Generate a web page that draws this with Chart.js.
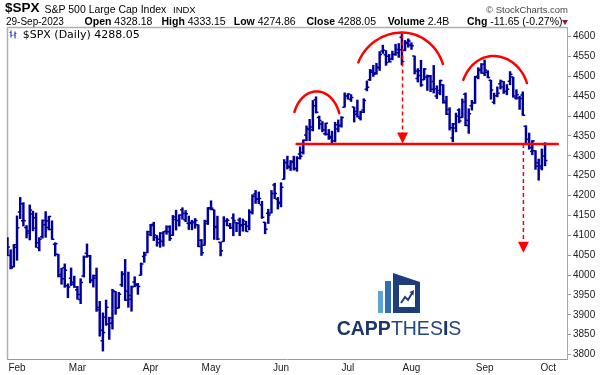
<!DOCTYPE html>
<html><head><meta charset="utf-8">
<script src="https://cdn.jsdelivr.net/npm/chart.js@4.4.0/dist/chart.umd.min.js"></script>
<style>
html,body{margin:0;padding:0;background:#fff;}
#wrap{position:relative;width:602px;height:375px;overflow:hidden;font-family:"Liberation Sans",Arial,sans-serif;}
canvas{position:absolute;left:0;top:0;}
.t{position:absolute;white-space:nowrap;line-height:1;color:#000;}
.b{font-weight:bold;}
</style></head><body>
<div id="wrap">
<canvas id="c" width="602" height="375"></canvas>
<div class="t b" style="left:5px;top:1.2px;font-size:13.5px;">$SPX</div>
<div class="t" style="left:44.5px;top:3.7px;font-size:10.5px;">S&amp;P 500 Large Cap Index</div>
<div class="t" style="left:173px;top:4.6px;font-size:9.5px;">INDX</div>
<div class="t" style="right:34px;top:4.6px;font-size:9.5px;color:#444;">© StockCharts.com</div>
<div class="t" style="left:6px;top:16.5px;font-size:10px;">29-Sep-2023</div>
<div class="t" style="left:84.6px;top:16.1px;font-size:10.5px;"><span class="b">Open</span> 4328.18</div>
<div class="t" style="left:161.5px;top:16.1px;font-size:10.5px;"><span class="b">High</span> 4333.15</div>
<div class="t" style="left:233.8px;top:16.1px;font-size:10.5px;"><span class="b">Low</span> 4274.86</div>
<div class="t" style="left:306.5px;top:16.1px;font-size:10.5px;"><span class="b">Close</span> 4288.05</div>
<div class="t" style="left:387.7px;top:16.1px;font-size:10.5px;"><span class="b">Volume</span> 2.4B</div>
<div class="t" style="left:467px;top:16.1px;font-size:10.5px;"><span class="b">Chg</span> -11.65 (-0.27%)</div>
<div style="position:absolute;left:561.5px;top:19.5px;width:0;height:0;border-left:3px solid transparent;border-right:3px solid transparent;border-top:5px solid #8b1a3a;"></div>
<svg style="position:absolute;left:9px;top:30px;" width="9" height="9" viewBox="0 0 9 9">
<path d="M2 0.5V7.5M0.5 2.5H2M2 5.5H3.5M6 1.5V8.5M4.5 5H6M6 3.5H7.5" stroke="#3344bb" stroke-width="1.2" fill="none"/>
</svg>
<div class="t" style="left:22.7px;top:28.7px;font-size:11px;font-family:'DejaVu Sans',sans-serif;">$SPX (Daily) 4288.05</div>
<svg style="position:absolute;left:377px;top:272px;" width="45" height="42" viewBox="0 0 45 42">
<rect x="1" y="19" width="5" height="22" fill="#5ba3d9"/>
<rect x="8" y="9" width="6" height="32" fill="#2f6db5"/>
<polygon points="16,1 43,10 43,41 16,41" fill="#1f3d7a"/>
<rect x="22" y="13" width="16" height="22" fill="#fff"/>
<polyline points="24,31 28,25 31,28 35.5,20.5" stroke="#1f3d7a" stroke-width="2" fill="none"/>
<polygon points="37,18 36.5,23.5 32.5,20" fill="#1f3d7a"/>
</svg>
<div class="t" style="left:336.7px;top:318.5px;font-size:19.5px;color:#1c3766;"><span class="b">CAPP</span><span style="color:#24467e">THES</span><span class="b">I</span><span style="color:#24467e">S</span></div>
</div>
<script>
const dates = [
'2023-01-27','2023-01-30','2023-01-31',
'2023-02-01','2023-02-02','2023-02-03','2023-02-06','2023-02-07','2023-02-08','2023-02-09','2023-02-10','2023-02-13','2023-02-14','2023-02-15','2023-02-16','2023-02-17','2023-02-21','2023-02-22','2023-02-23','2023-02-24','2023-02-27','2023-02-28',
'2023-03-01','2023-03-02','2023-03-03','2023-03-06','2023-03-07','2023-03-08','2023-03-09','2023-03-10','2023-03-13','2023-03-14','2023-03-15','2023-03-16','2023-03-17','2023-03-20','2023-03-21','2023-03-22','2023-03-23','2023-03-24','2023-03-27','2023-03-28','2023-03-29','2023-03-30','2023-03-31',
'2023-04-03','2023-04-04','2023-04-05','2023-04-06','2023-04-10','2023-04-11','2023-04-12','2023-04-13','2023-04-14','2023-04-17','2023-04-18','2023-04-19','2023-04-20','2023-04-21','2023-04-24','2023-04-25','2023-04-26','2023-04-27','2023-04-28',
'2023-05-01','2023-05-02','2023-05-03','2023-05-04','2023-05-05','2023-05-08','2023-05-09','2023-05-10','2023-05-11','2023-05-12','2023-05-15','2023-05-16','2023-05-17','2023-05-18','2023-05-19','2023-05-22','2023-05-23','2023-05-24','2023-05-25','2023-05-26','2023-05-30','2023-05-31',
'2023-06-01','2023-06-02','2023-06-05','2023-06-06','2023-06-07','2023-06-08','2023-06-09','2023-06-12','2023-06-13','2023-06-14','2023-06-15','2023-06-16','2023-06-20','2023-06-21','2023-06-22','2023-06-23','2023-06-26','2023-06-27','2023-06-28','2023-06-29','2023-06-30',
'2023-07-03','2023-07-05','2023-07-06','2023-07-07','2023-07-10','2023-07-11','2023-07-12','2023-07-13','2023-07-14','2023-07-17','2023-07-18','2023-07-19','2023-07-20','2023-07-21','2023-07-24','2023-07-25','2023-07-26','2023-07-27','2023-07-28','2023-07-31',
'2023-08-01','2023-08-02','2023-08-03','2023-08-04','2023-08-07','2023-08-08','2023-08-09','2023-08-10','2023-08-11','2023-08-14','2023-08-15','2023-08-16','2023-08-17','2023-08-18','2023-08-21','2023-08-22','2023-08-23','2023-08-24','2023-08-25','2023-08-28','2023-08-29','2023-08-30','2023-08-31',
'2023-09-01','2023-09-05','2023-09-06','2023-09-07','2023-09-08','2023-09-11','2023-09-12','2023-09-13','2023-09-14','2023-09-15','2023-09-18','2023-09-19','2023-09-20','2023-09-21','2023-09-22','2023-09-25','2023-09-26','2023-09-27','2023-09-28','2023-09-29'
];
const opens = [
4053.72,4049.27,4020.85,
4070.07,4158.68,4136.69,4119.57,4105.35,4153.47,4144.25,4068.92,4096.62,4126.70,4119.50,4114.75,4077.39,4052.35,4001.83,4018.60,3973.24,3992.36,3977.19,
3963.34,3938.68,3998.02,4055.15,4048.26,3987.55,3998.66,3912.77,3835.12,3894.01,3876.74,3878.93,3958.69,3917.47,3975.89,4002.04,3959.21,3939.21,3982.93,3974.13,3999.53,4046.74,4056.18,
4102.20,4128.03,4094.50,4081.15,4085.20,4110.29,4121.72,4100.04,4140.11,4137.17,4164.26,4139.33,4130.48,4132.14,4132.07,4126.43,4087.78,4075.29,4129.63,
4166.79,4164.10,4122.25,4082.61,4084.73,4136.98,4124.25,4143.74,4132.24,4138.54,4126.65,4127.95,4122.85,4157.68,4204.15,4190.78,4176.80,4132.96,4155.71,4156.16,4226.71,4190.74,
4183.03,4241.01,4282.99,4271.34,4285.47,4268.69,4304.88,4308.32,4352.61,4366.29,4365.33,4440.95,4396.11,4380.01,4355.40,4354.17,4344.84,4337.36,4367.48,4374.94,4422.44,
4450.48,4442.04,4422.62,4404.54,4394.23,4415.55,4467.69,4491.50,4514.61,4508.86,4521.78,4563.87,4554.38,4550.16,4543.39,4555.19,4558.96,4598.26,4565.75,4584.82,
4578.83,4550.93,4494.27,4513.96,4491.58,4498.03,4501.57,4487.16,4450.69,4458.13,4478.87,4433.79,4416.32,4344.88,4380.28,4415.33,4396.44,4455.16,4389.38,4426.03,4432.75,4500.34,4517.01,
4530.60,4510.06,4490.35,4434.55,4451.30,4480.98,4473.27,4462.65,4487.78,4497.98,4445.13,4445.41,4452.81,4374.36,4341.74,4310.62,4312.88,4282.63,4269.65,4328.18
];
const highs = [
4094.21,4063.85,4077.16,
4148.95,4195.44,4182.36,4124.63,4176.54,4160.77,4156.23,4094.36,4138.90,4159.77,4148.11,4136.54,4081.51,4052.35,4017.37,4028.30,3978.25,4018.05,3997.50,
3971.73,3990.84,4048.29,4078.49,4050.00,4000.41,4017.81,3934.05,3905.05,3937.29,3894.26,3964.46,3958.91,3956.62,4009.08,4039.49,4007.66,3972.74,3996.00,3979.20,4030.59,4057.85,4110.75,
4127.66,4133.13,4099.69,4107.32,4109.50,4124.26,4124.36,4150.26,4163.19,4151.72,4169.48,4162.57,4148.57,4138.02,4142.41,4126.43,4089.67,4138.24,4170.06,
4186.92,4164.10,4148.30,4082.61,4147.02,4142.30,4130.35,4154.28,4132.80,4143.74,4141.25,4135.54,4164.67,4202.20,4212.91,4209.22,4185.68,4132.96,4165.74,4212.87,4231.10,4195.44,
4232.43,4290.67,4299.28,4288.33,4299.19,4298.01,4322.62,4340.13,4375.37,4391.82,4439.20,4448.47,4400.15,4386.22,4382.25,4366.55,4362.06,4384.42,4390.35,4398.39,4458.48,
4456.46,4454.06,4422.62,4440.39,4412.60,4443.64,4488.34,4517.38,4527.76,4532.85,4562.30,4578.43,4564.74,4555.00,4563.41,4580.62,4582.47,4607.07,4590.16,4594.22,
4584.62,4550.93,4519.49,4540.34,4519.84,4503.31,4502.44,4527.37,4476.23,4490.33,4478.87,4449.95,4421.17,4381.82,4407.55,4418.59,4443.18,4458.30,4418.46,4439.56,4500.14,4521.65,4532.26,
4541.25,4514.29,4490.35,4457.81,4473.53,4490.77,4487.11,4479.39,4511.99,4497.98,4466.36,4449.85,4461.03,4375.70,4357.40,4338.51,4313.01,4292.07,4317.27,4333.15
];
const lows = [
4048.70,4015.55,4020.44,
4037.20,4141.88,4123.36,4093.38,4088.39,4111.35,4069.67,4060.79,4092.67,4095.01,4113.47,4089.73,4047.95,3995.19,3976.90,3969.19,3943.08,3973.55,3968.98,
3939.05,3928.16,3995.17,4044.61,3980.31,3969.76,3908.70,3846.32,3808.86,3873.63,3838.24,3864.11,3901.27,3916.89,3971.19,3936.17,3919.05,3909.16,3970.42,3951.53,3999.53,4032.10,4056.18,
4098.79,4086.87,4072.56,4069.84,4072.55,4102.61,4086.94,4099.40,4113.20,4123.18,4140.36,4134.49,4114.57,4113.86,4117.77,4071.38,4049.35,4075.29,4127.18,
4164.12,4089.72,4088.86,4048.28,4084.73,4123.81,4116.65,4098.92,4109.29,4099.12,4110.27,4109.86,4113.62,4153.50,4180.20,4179.68,4142.54,4103.98,4129.73,4156.16,4192.18,4166.15,
4171.64,4241.01,4266.82,4263.09,4263.96,4261.07,4291.70,4304.37,4337.66,4337.85,4362.60,4407.44,4367.19,4360.14,4351.82,4341.34,4328.08,4335.00,4360.22,4371.97,4422.44,
4442.29,4436.61,4385.05,4397.40,4389.92,4408.46,4463.23,4489.36,4499.56,4504.90,4514.59,4557.48,4527.56,4535.79,4541.29,4552.42,4547.58,4528.56,4564.01,4573.14,
4567.53,4505.75,4485.54,4474.55,4491.15,4464.39,4461.33,4457.92,4443.98,4453.44,4432.19,4403.55,4364.83,4335.31,4360.30,4382.77,4396.44,4375.55,4356.29,4414.98,4431.68,4493.59,4507.39,
4501.35,4496.01,4442.38,4430.46,4448.38,4467.89,4456.83,4453.52,4478.69,4447.21,4442.11,4416.61,4401.38,4329.17,4316.49,4302.70,4265.98,4238.63,4264.38,4274.86
];
const closes = [
4070.56,4017.77,4076.60,
4119.21,4179.76,4136.48,4111.08,4164.00,4117.86,4081.50,4090.46,4137.29,4136.13,4147.60,4090.41,4079.09,3997.34,3991.05,4012.32,3970.04,3982.24,3970.15,
3951.39,3981.35,4045.64,4048.42,3986.37,3992.01,3918.32,3861.59,3855.76,3919.29,3891.93,3960.28,3916.64,3951.57,4002.87,3936.97,3948.72,3970.99,3977.53,3971.27,4027.81,4050.83,4109.31,
4124.51,4100.60,4090.38,4105.02,4109.11,4108.94,4091.95,4146.22,4137.64,4151.32,4154.87,4154.52,4129.79,4133.52,4137.04,4071.63,4055.99,4135.35,4169.48,
4167.87,4119.58,4090.75,4061.22,4136.25,4138.12,4119.17,4137.64,4130.62,4124.08,4136.28,4109.90,4158.77,4198.05,4191.98,4192.63,4145.58,4115.24,4151.28,4205.45,4205.52,4179.83,
4221.02,4282.37,4273.79,4283.85,4267.52,4293.93,4298.86,4338.93,4369.01,4372.59,4425.84,4409.59,4388.71,4365.69,4381.89,4348.33,4328.82,4378.41,4376.86,4396.44,4450.38,
4455.59,4446.82,4411.59,4398.95,4409.53,4439.26,4472.16,4510.04,4505.42,4522.79,4554.98,4565.72,4534.87,4536.34,4554.64,4567.46,4566.75,4537.41,4582.23,4588.96,
4576.73,4513.39,4501.89,4478.03,4518.44,4499.38,4467.71,4468.83,4464.05,4489.72,4437.86,4404.33,4370.36,4369.71,4399.77,4387.55,4436.01,4376.31,4405.71,4433.31,4497.63,4514.87,4507.66,
4515.77,4496.83,4465.48,4451.14,4457.49,4487.46,4461.90,4467.44,4505.10,4450.32,4453.53,4443.95,4402.20,4330.00,4320.06,4337.44,4273.53,4274.51,4299.70,4288.05
];
const monthLabels = ['Feb','Mar','Apr','May','Jun','Jul','Aug','Sep','Oct'];
const monthTickIndex = [3,22,45,64,86,107,127,150,170];
const yTickValues = [3800,3850,3900,3950,4000,4050,4100,4150,4200,4250,4300,4350,4400,4450,4500,4550,4600];
// annotations, in data units (bar index, price)
const necklineLevel = 4330;
const necklineSpan = [90.9, 173.0];
const arcLeft = [90.2, 110.3, 143.3];
const arcLeftValue = [4410, 4535, 4491];
const arcPeak = [97.2, 124.1, 152.7];
const arcPeakValue = [4462, 4610, 4551];
const arcRight = [104.3, 136.9, 163.3];
const arcRightValue = [4407, 4531, 4483];
const arrowIndex = [124.2, 162.2];
const arrowFrom = [4605, 4330];
const arrowTo = [4331, 4056];

const FONT = "'Liberation Sans', Arial, sans-serif";
const BAR = '#000099';
const RED = '#ff0000';

const ohlcTicks = {
  id: 'ohlcTicks',
  afterDatasetsDraw(chart) {
    const {ctx, scales: {x, y}, chartArea: a} = chart;
    ctx.save();
    ctx.beginPath(); ctx.rect(a.left, a.top, a.right - a.left, a.bottom - a.top); ctx.clip();
    ctx.strokeStyle = BAR; ctx.lineWidth = 1.5;
    ctx.beginPath();
    for (let i = 0; i < dates.length; i++) {
      const xp = x.getPixelForValue(i);
      const yo = y.getPixelForValue(opens[i]);
      const yc = y.getPixelForValue(closes[i]);
      ctx.moveTo(xp - 2.4, yo); ctx.lineTo(xp, yo);
      ctx.moveTo(xp, yc); ctx.lineTo(xp + 2.4, yc);
    }
    ctx.stroke();
    ctx.restore();
  }
};

const frame = {
  id: 'frame',
  beforeDatasetsDraw(chart) {
    const {ctx, chartArea: a} = chart;
    ctx.save();
    ctx.strokeStyle = '#b0b0b0'; ctx.lineWidth = 1.5;
    ctx.beginPath();
    ctx.moveTo(a.left + 0.5, a.bottom); ctx.lineTo(a.left + 0.5, a.top + 0.5); ctx.lineTo(a.right, a.top + 0.5);
    ctx.stroke();
    ctx.restore();
  }
};

const annotations = {
  id: 'annotations',
  afterDraw(chart) {
    const {ctx, scales: {x, y}} = chart;
    ctx.save();
    ctx.strokeStyle = RED; ctx.fillStyle = RED; ctx.lineCap = 'round';
    ctx.lineWidth = 2.5;
    ctx.beginPath();
    ctx.moveTo(x.getPixelForValue(necklineSpan[0]), y.getPixelForValue(necklineLevel));
    ctx.lineTo(x.getPixelForValue(necklineSpan[1]), y.getPixelForValue(necklineLevel));
    ctx.stroke();
    for (let k = 0; k < arcPeak.length; k++) {
      const xl = x.getPixelForValue(arcLeft[k]), yl = y.getPixelForValue(arcLeftValue[k]);
      const xr = x.getPixelForValue(arcRight[k]), yr = y.getPixelForValue(arcRightValue[k]);
      const xp = x.getPixelForValue(arcPeak[k]), yp = y.getPixelForValue(arcPeakValue[k]);
      const h = Math.max(yl, yr) - yp;
      const cy = Math.max(yl, yr) + 0.5 * h;
      const ry = cy - yp;
      const phiL = Math.asin((cy - yl) / ry), phiR = Math.asin((cy - yr) / ry);
      const rxl = (xp - xl) / Math.cos(phiL), rxr = (xr - xp) / Math.cos(phiR);
      ctx.beginPath();
      const n = 40;
      for (let j = 0; j <= n; j++) {
        const phi = phiL + (Math.PI / 2 - phiL) * j / n;
        const px = xp - rxl * Math.cos(phi), py = cy - ry * Math.sin(phi);
        if (j === 0) ctx.moveTo(px, py); else ctx.lineTo(px, py);
      }
      for (let j = 1; j <= n; j++) {
        const phi = Math.PI / 2 - (Math.PI / 2 - phiR) * j / n;
        ctx.lineTo(xp + rxr * Math.cos(phi), cy - ry * Math.sin(phi));
      }
      ctx.lineWidth = 2.5;
      ctx.stroke();
    }
    for (let k = 0; k < arrowIndex.length; k++) {
      const xp = x.getPixelForValue(arrowIndex[k]);
      const y0 = y.getPixelForValue(arrowFrom[k]);
      const y1 = y.getPixelForValue(arrowTo[k]);
      ctx.lineWidth = 1.5; ctx.lineCap = 'butt';
      ctx.setLineDash([4, 3]);
      ctx.beginPath(); ctx.moveTo(xp, y0); ctx.lineTo(xp, y1 - 10); ctx.stroke();
      ctx.setLineDash([]);
      ctx.beginPath(); ctx.moveTo(xp - 5.5, y1 - 11); ctx.lineTo(xp + 5.5, y1 - 11); ctx.lineTo(xp, y1); ctx.closePath(); ctx.fill();
    }
    ctx.restore();
  }
};

new Chart(document.getElementById('c'), {
  type: 'bar',
  data: {
    datasets: [{
      data: dates.map((d, i) => ({x: i, y: [lows[i], highs[i]]})),
      backgroundColor: BAR,
      borderWidth: 0,
      barThickness: 1.8
    }]
  },
  options: {
    responsive: false,
    animation: false,
    devicePixelRatio: 1,
    layout: {padding: {left: 7, top: 27, right: 0, bottom: 0}},
    plugins: {legend: {display: false}, tooltip: {enabled: false}},
    scales: {
      x: {
        type: 'linear', min: -0.15, max: 175.9, offset: false,
        grid: {display: true, drawOnChartArea: false, drawTicks: false},
        border: {display: true, color: '#999', dash: [1, 2], width: 1},
        ticks: {padding: 3, color: '#222', font: {family: FONT, size: 10}, maxRotation: 0, autoSkip: false,
          callback: (v, i) => monthLabels[i]},
        afterBuildTicks: s => { s.ticks = monthTickIndex.map(v => ({value: v})); },
        afterFit: s => { s.height = 16; }
      },
      y: {
        position: 'right', min: 3789, max: 4624, beginAtZero: false,
        grid: {display: true, drawOnChartArea: false, drawTicks: true, tickLength: 4, color: '#999'},
        border: {display: true, color: '#aaa', width: 1},
        ticks: {padding: 2, color: '#222', font: {family: FONT, size: 10}, autoSkip: false,
          callback: v => String(v)},
        afterBuildTicks: s => { s.ticks = yTickValues.map(v => ({value: v})); },
        afterFit: s => { s.width = 35; }
      }
    }
  },
  plugins: [frame, ohlcTicks, annotations]
});
</script>
</body></html>
